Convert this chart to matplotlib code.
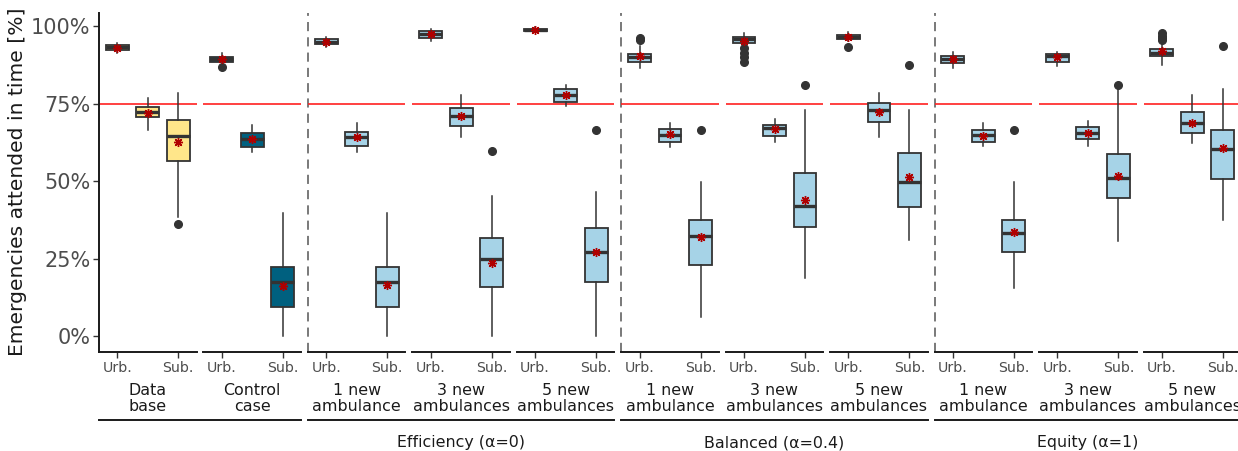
import matplotlib
matplotlib.use("Agg")
import matplotlib.pyplot as plt
from matplotlib.lines import Line2D

# ---- data: 11 panels x 3 boxes (Urb., mixed, Sub.) ----
panel_labels = ["Data\nbase", "Control\ncase",
                "1 new\nambulance", "3 new\nambulances", "5 new\nambulances",
                "1 new\nambulance", "3 new\nambulances", "5 new\nambulances",
                "1 new\nambulance", "3 new\nambulances", "5 new\nambulances"]
group_labels = ["", "Efficiency (\u03b1=0)", "Balanced (\u03b1=0.4)", "Equity (\u03b1=1)"]
group_panels = [(0, 1), (2, 4), (5, 7), (8, 10)]
tick_labels = ["Urb.", "Sub."]

medians = [[93.1, 72.4, 64.6], [89.2, 63.4, 17.5], [94.9, 64.3, 17.5],
           [97.3, 71.1, 24.8], [98.7, 77.8, 27.2], [89.9, 64.8, 32.3],
           [95.7, 67.2, 41.9], [96.3, 72.9, 49.8], [89.2, 64.8, 33.3],
           [90.3, 65.6, 51.1], [91.4, 68.6, 60.2]]
q1 = [[92.3, 70.5, 56.6], [88.5, 61.1, 9.5], [94.2, 61.4, 9.5],
      [96.1, 67.8, 15.9], [98.3, 75.6, 17.5], [88.5, 62.7, 22.9],
      [94.6, 64.5, 35.1], [95.7, 69.0, 41.5], [88.2, 62.7, 27.2],
      [88.5, 63.4, 44.4], [90.3, 65.4, 50.6]]
q3 = [[93.9, 73.8, 69.7], [89.9, 65.4, 22.2], [95.7, 65.9, 22.2],
      [98.3, 73.4, 31.5], [99.1, 79.6, 34.7], [91.0, 66.7, 37.4],
      [96.3, 68.1, 52.5], [97.0, 75.3, 58.9], [90.4, 66.5, 37.4],
      [91.0, 67.3, 58.7], [92.5, 72.4, 66.5]]
whis_lo = [[91.4, 66.5, 38.5], [88.5, 59.5, 0.0], [93.1, 59.5, 0.0],
           [95.3, 64.1, 0.0], [98.0, 74.2, 0.0], [86.3, 60.9, 6.2],
           [93.9, 62.7, 18.6], [95.2, 64.3, 31.0], [86.3, 61.3, 15.4],
           [87.1, 61.3, 30.8], [87.4, 62.2, 37.4]]
whis_hi = [[94.4, 76.7, 78.3], [91.4, 68.1, 39.8], [96.6, 68.6, 39.8],
           [98.9, 77.7, 45.2], [99.8, 81.0, 46.6], [93.5, 68.8, 49.8],
           [97.8, 69.9, 72.9], [98.2, 78.5, 72.9], [91.7, 68.8, 49.8],
           [91.7, 69.5, 79.9], [93.9, 77.7, 79.6]]
means = [[93.0, 71.8, 62.5], [89.3, 63.4, 16.1], [94.9, 64.1, 16.5],
         [97.3, 71.0, 23.5], [98.8, 77.7, 27.0], [90.3, 65.1, 31.8],
         [95.3, 66.7, 43.9], [96.3, 72.4, 51.2], [89.2, 64.6, 33.7],
         [90.1, 65.6, 51.6], [91.9, 68.8, 60.5]]
outliers = [[[], [], [36.1]], [[86.9], [], []], [[], [], []],
            [[], [], [59.8]], [[], [], [66.5]], [[95.6, 96.1], [], [66.5]],
            [[92.8, 91.4, 89.9, 88.5], [], [81.0]], [[93.3], [], [87.3]],
            [[], [], [66.5]], [[], [], [81.0]],
            [[97.6, 96.8, 96.2, 95.5], [], [93.5]]]
target = 75

fill_colors = ["#FFE68A", "#00607F"] + ["#A6D3E7"] * 9

# ---- layout (pixels) ----
W, H = 1238, 451
fig = plt.figure(figsize=(W / 100, H / 100), dpi=100)


def fx(px):
    return px / W


def fy(py):
    return 1 - py / H


left0, step, pw = 99, 104.45, 97.6
top, bottom = 13, 351.7
dark = "#333333"
grey_txt = "#4D4D4D"

axes = []
for i in range(11):
    x0 = left0 + i * step
    ax = fig.add_axes([fx(x0), fy(bottom), pw / W, (bottom - top) / H])
    axes.append(ax)
    stats = []
    for j in range(3):
        stats.append(dict(med=medians[i][j], q1=q1[i][j], q3=q3[i][j],
                          whislo=whis_lo[i][j], whishi=whis_hi[i][j],
                          mean=means[i][j], fliers=outliers[i][j]))
    ax.axhline(target, color="#FF2020", lw=1.2, zorder=1)
    bp = ax.bxp(stats, positions=[1, 2, 3], widths=0.75, patch_artist=True,
                showmeans=True, showcaps=False,
                boxprops=dict(facecolor=fill_colors[i], edgecolor=dark, lw=1.3),
                whiskerprops=dict(color=dark, lw=1.1),
                medianprops=dict(color=dark, lw=2.4),
                flierprops=dict(marker="o", markerfacecolor=dark,
                                markeredgecolor=dark, markersize=5.5),
                meanprops=dict(marker=(8, 2, 0), markerfacecolor="#8B0000",
                               markeredgecolor="#B00000", markersize=6.5,
                               markeredgewidth=1.0))
    for m in bp["means"]:
        m.set_zorder(5)
    ax.set_xlim(0.4, 3.6)
    ax.set_ylim(-5.06, 104.2)
    for s in ("top", "right"):
        ax.spines[s].set_visible(False)
    ax.spines["bottom"].set_linewidth(1.4)
    ax.spines["bottom"].set_color("#1a1a1a")
    ax.set_xticks([1, 3])
    ax.set_xticklabels(tick_labels)
    ax.tick_params(axis="x", length=4, width=1.0, color=dark,
                   labelsize=10.2, labelcolor=grey_txt, pad=2.5)
    if i == 0:
        ax.spines["left"].set_linewidth(1.4)
        ax.spines["left"].set_color("#1a1a1a")
        ax.set_yticks([0, 25, 50, 75, 100])
        ax.set_yticklabels(["0%", "25%", "50%", "75%", "100%"])
        ax.tick_params(axis="y", length=4, width=1.0, color=dark,
                       labelsize=15, labelcolor=grey_txt, pad=2)
    else:
        ax.spines["left"].set_visible(False)
        ax.set_yticks([])
    if i in (2, 5, 8):
        ax.axvline(0.4, color="#555555", lw=1.1, ls=(0, (6, 4)),
                   clip_on=False, zorder=0)
    ax.set_facecolor("none")
    # panel caption under the tick labels
    fig.text(fx(x0 + pw / 2), fy(398.5), panel_labels[i], ha="center",
             va="center", fontsize=11.4, color="#1a1a1a", linespacing=1.05)

# group brackets and labels
for (a, b), lab in zip(group_panels, group_labels):
    xa = left0 + a * step
    xb = left0 + b * step + pw
    fig.add_artist(Line2D([fx(xa), fx(xb)], [fy(420), fy(420)],
                          color="#1a1a1a", lw=1.4))
    if lab:
        fig.text(fx((xa + xb) / 2), fy(443), lab, ha="center", va="center",
                 fontsize=11.4, color="#1a1a1a")

fig.text(fx(18), fy(182), "Emergencies attended in time [%]", rotation=90,
         ha="center", va="center", fontsize=14.6, color="#1a1a1a")

fig.savefig("out.png", dpi=100)
